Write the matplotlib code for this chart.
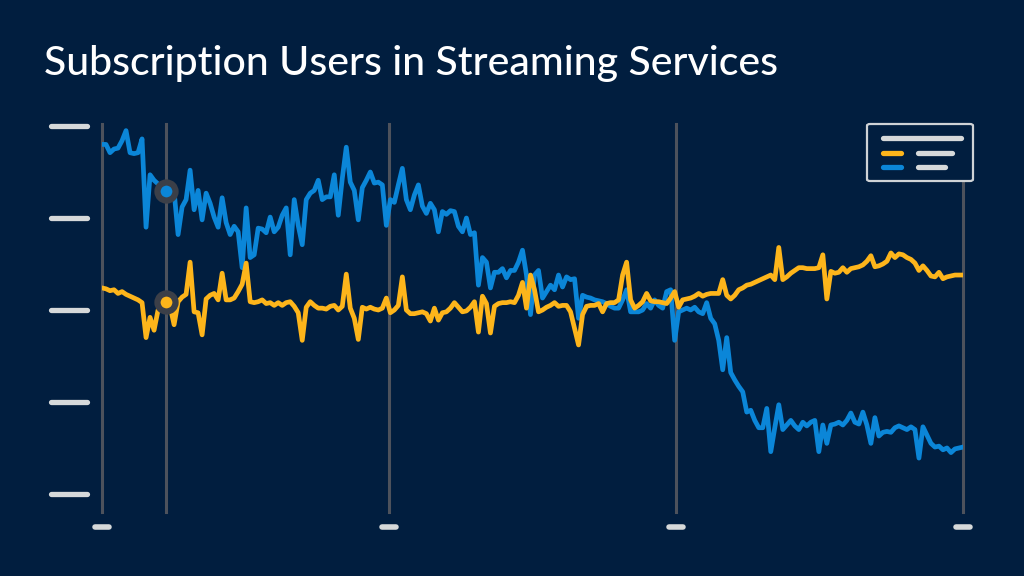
import matplotlib
matplotlib.use("Agg")
import matplotlib.pyplot as plt
import matplotlib.transforms as mtransforms
from matplotlib.patches import FancyBboxPatch
from matplotlib.lines import Line2D
import numpy as np

# daily subscribers, two services (units are arbitrary, ticks at 0..400)
blue = [380, 380, 371, 375, 376, 384, 395, 371, 370, 371,
        386, 290, 347, 341, 337, 332, 329, 332, 329, 282,
        312, 320, 352, 309, 330, 298, 327, 316, 301, 290,
        322, 295, 282, 291, 285, 246, 311, 257, 260, 289,
        288, 284, 301, 285, 290, 303, 311, 260, 320, 292,
        271, 320, 327, 330, 341, 320, 323, 323, 347, 303,
        343, 377, 339, 330, 298, 333, 341, 350, 338, 339,
        336, 292, 320, 317, 336, 354, 320, 309, 325, 336,
        313, 305, 316, 309, 285, 307, 304, 308, 307, 291,
        285, 300, 282, 284, 227, 257, 252, 224, 241, 241,
        245, 235, 243, 243, 252, 265, 238, 195, 238, 243,
        213, 220, 227, 222, 238, 225, 236, 233, 234, 191,
        216, 214, 213, 211, 210, 209, 207, 204, 202, 202,
        211, 222, 198, 198, 198, 200, 207, 202, 211, 205,
        202, 220, 222, 167, 198, 200, 202, 200, 203, 198,
        196, 208, 191, 185, 167, 135, 170, 132, 124, 117,
        111, 89, 91, 80, 72, 72, 93, 46, 72, 97,
        70, 75, 80, 74, 70, 78, 74, 78, 80, 46,
        75, 55, 75, 76, 78, 75, 80, 88, 78, 76,
        89, 75, 55, 83, 63, 67, 68, 67, 72, 74,
        72, 70, 73, 70, 39, 73, 64, 55, 51, 52,
        48, 50, 45, 49, 50, 51]

yellow = [224, 223, 221, 222, 218, 220, 217, 215, 213, 211,
          208, 170, 192, 178, 200, 205, 209, 204, 184, 209,
          214, 217, 252, 198, 197, 173, 212, 216, 218, 211,
          240, 211, 211, 213, 220, 228, 251, 209, 208, 209,
          211, 207, 208, 205, 208, 205, 208, 209, 204, 197,
          167, 203, 209, 205, 202, 202, 201, 204, 205, 200,
          204, 239, 202, 191, 168, 203, 201, 203, 201, 200,
          202, 213, 197, 200, 205, 236, 200, 196, 196, 197,
          198, 196, 188, 202, 189, 197, 198, 202, 208, 203,
          198, 199, 203, 209, 176, 215, 207, 175, 204, 207,
          208, 208, 209, 208, 216, 230, 202, 238, 222, 198,
          200, 203, 205, 208, 204, 205, 205, 198, 180, 162,
          195, 204, 205, 205, 207, 198, 207, 208, 208, 211,
          238, 252, 211, 202, 205, 209, 218, 210, 209, 209,
          208, 207, 213, 220, 203, 211, 212, 213, 215, 218,
          215, 217, 218, 218, 218, 233, 216, 212, 216, 222,
          224, 227, 228, 230, 232, 234, 236, 238, 233, 268,
          233, 236, 240, 243, 246, 246, 245, 245, 245, 246,
          260, 212, 242, 240, 241, 246, 241, 245, 246, 247,
          249, 253, 259, 247, 248, 250, 253, 262, 257, 261,
          260, 257, 255, 251, 243, 248, 243, 237, 236, 241,
          234, 236, 237, 238, 238, 238]

y_ticks = [0, 100, 200, 300, 400]
hover = 16  # day highlighted by the cursor line

BG = "#011e3f"
GRID = "#4d525c"
BLUE = "#0b86d8"
YELLOW = "#fdb51b"
PH = "#d6d9da"  # placeholder bars

fig = plt.figure(figsize=(10.24, 5.76), dpi=100, facecolor=BG)
ax = fig.add_axes([102 / 1024, 1 - 512 / 576, 861 / 1024, 388 / 576])
ax.set_facecolor(BG)

days = np.arange(len(blue))
ax.set_xlim(0, len(blue) - 1)
ax.set_ylim(-19.6, 402.2)
for s in ax.spines.values():
    s.set_visible(False)
ax.set_xticks([])
ax.set_yticks([])

x_ticks = np.linspace(0, len(blue) - 1, 4)
for t in list(x_ticks) + [hover]:
    ax.axvline(t, color=GRID, lw=2.2, zorder=1, clip_on=False)

ax.plot(days, blue, color=BLUE, lw=3.4, zorder=3)
ax.plot(days, yellow, color=YELLOW, lw=3.4, zorder=4)

# cursor markers
ax.plot(hover, blue[hover], "o", ms=13, mfc=BLUE, mec="#3b3f48", mew=4.5, zorder=6)
ax.plot(hover, yellow[hover], "o", ms=13, mfc=YELLOW, mec="#3b3f48", mew=4.5, zorder=6)

# tick label placeholders
ytrans = mtransforms.blended_transform_factory(ax.transAxes, ax.transData)
for v in y_ticks:
    ax.plot([-0.0598, -0.018], [v, v], transform=ytrans, clip_on=False,
            lw=3.8, solid_capstyle="round", color=PH)
xtrans = mtransforms.blended_transform_factory(ax.transData, ax.transAxes)
for t in x_ticks:
    ax.plot([t - 1.75, t + 1.75], [-0.0387, -0.0387], transform=xtrans, clip_on=False,
            lw=4, solid_capstyle="round", color=PH)

# legend placeholder
def fx(px):
    return px / 1024

def fy(py):
    return 1 - py / 576

box = FancyBboxPatch((fx(867), fy(181)), fx(106), 57 / 576,
                     boxstyle="round,pad=0,rounding_size=0.003",
                     transform=fig.transFigure, fc=BG, ec="#cfd3d6", lw=1.6, zorder=10)
fig.add_artist(box)
legend_bars = [
    (882.5, 960.5, 138, PH),
    (882.5, 900.5, 153, YELLOW),
    (917.5, 951.5, 153, PH),
    (882.5, 900.5, 167, BLUE),
    (917.5, 944.5, 167, PH),
]
for x0, x1, yy, c in legend_bars:
    fig.add_artist(Line2D([fx(x0), fx(x1)], [fy(yy), fy(yy)], transform=fig.transFigure,
                          color=c, lw=3.8, solid_capstyle="round", zorder=11))

fig.text(44 / 1024, fy(75), "Subscription Users in Streaming Services", color="white",
         fontsize=29.5, fontfamily="Lato", fontweight="medium", ha="left", va="baseline")

fig.savefig("out.png", dpi=100, facecolor=BG)
